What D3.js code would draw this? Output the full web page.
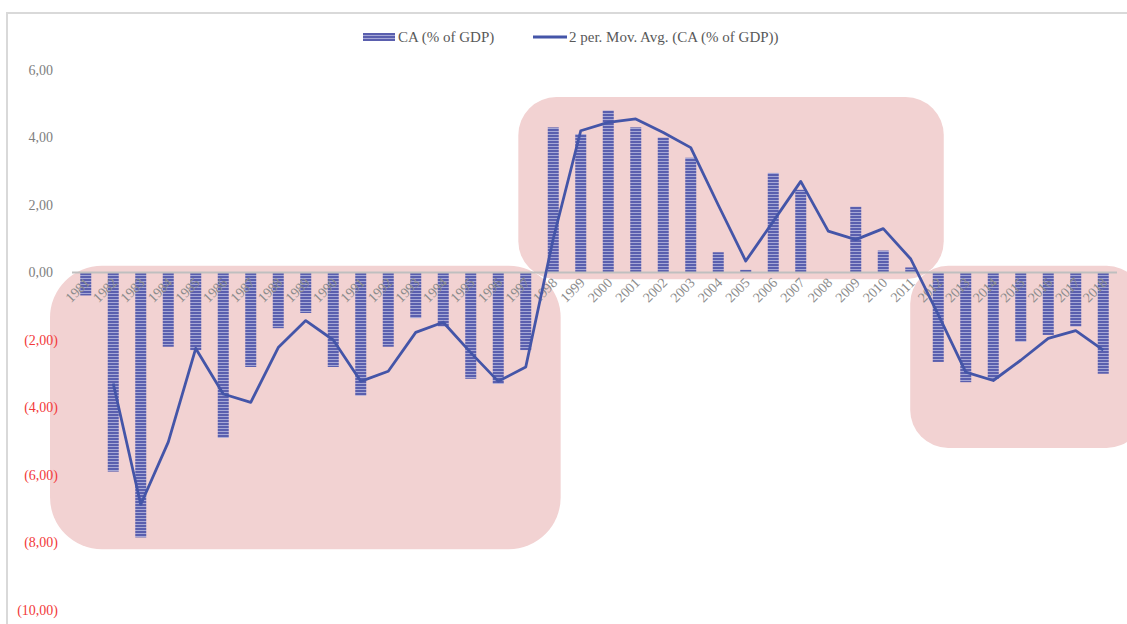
<!DOCTYPE html>
<html>
<head>
<meta charset="utf-8">
<script src="https://cdn.jsdelivr.net/npm/d3@7"></script>
<style>
  html, body { margin: 0; padding: 0; background: #fff; }
  svg { display: block; }
  text { font-family: "Liberation Serif", "DejaVu Serif", serif; }
</style>
</head>
<body>
<svg id="chart" width="1127" height="624"></svg>
<script>
// Current account balance, % of GDP
const years = d3.range(1981, 2019).map(String);
const caValues = [
  -0.68, -5.9, -7.85, -2.2, -2.3, -4.9, -2.8, -1.65, -1.2, -2.8,
  -3.65, -2.2, -1.35, -1.6, -3.15, -3.3, -2.3, 4.3, 4.1, 4.8,
  4.3, 4.0, 3.4, 0.6, 0.08, 2.95, 2.45, 0.0, 1.95, 0.65,
  0.15, -2.65, -3.25, -3.15, -2.05, -1.85, -1.6, -3.0
];
const yTicks = [6, 4, 2, 0, -2, -4, -6, -8, -10];
const legendLabels = ["CA (% of GDP)", "2 per. Mov. Avg. (CA (% of GDP))"];

// Highlighted periods: [first year, last year, top value, bottom value]
const periodFirst = ["1981", "1998", "2012"];
const periodLast = ["1997", "2011", "2018"];
const periodTop = [0.2, 5.2, 0.2];
const periodBottom = [-8.2, -0.2, -5.2];

// 2-period moving average (starts at the second year)
const movAvg = caValues.slice(1).map((v, i) => ({ year: years[i + 1], value: (v + caValues[i]) / 2 }));

const svg = d3.select("#chart");

const x = d3.scaleBand().domain(years).range([72, 1117]).paddingInner(0.6).paddingOuter(0.3);
const y = d3.scaleLinear().domain([-10, 6]).range([610, 70]);

const defs = svg.append("defs");
const pat = defs.append("pattern")
  .attr("id", "stripes").attr("patternUnits", "userSpaceOnUse")
  .attr("width", 6).attr("height", 3);
pat.append("rect").attr("width", 6).attr("height", 3).attr("fill", "#5a5fae");
pat.append("rect").attr("y", 2).attr("width", 6).attr("height", 1).attr("fill", "#a6a8d6");

// chart frame
svg.append("path").attr("d", "M7,624 V13 H1127")
  .attr("fill", "none").attr("stroke", "#d9d9d9").attr("stroke-width", 2);

// highlight boxes, padded around their first and last bars
const step = x.step();
const padLeft = [1.1, 1.07, 0.82];
const padRight = [1.07, 1.0, 1.3];
const boxes = svg.append("g");
periodFirst.forEach((f, i) => {
  const x0 = x(f) - step * padLeft[i];
  const x1 = x(periodLast[i]) + x.bandwidth() + step * padRight[i];
  boxes.append("rect")
    .attr("x", x0).attr("y", y(periodTop[i]))
    .attr("width", x1 - x0).attr("height", y(periodBottom[i]) - y(periodTop[i]))
    .attr("rx", i === 0 ? 52 : 38)
    .attr("fill", "#f2d2d2");
});

// y-axis labels
const fmt = v => {
  const s = Math.abs(v).toFixed(2).replace(".", ",");
  return v < 0 ? "(" + s + ")" : s;
};
svg.append("g").selectAll("text").data(yTicks).join("text")
  .attr("x", d => d < 0 ? 58 : 53)
  .attr("y", d => y(d)).attr("dy", "0.35em")
  .attr("text-anchor", "end")
  .attr("font-size", 14)
  .attr("fill", d => d < 0 ? "#f23a3a" : "#808080")
  .text(fmt);

// bars
svg.append("g").selectAll("rect").data(caValues).join("rect")
  .attr("x", (d, i) => x(years[i]))
  .attr("width", x.bandwidth())
  .attr("y", d => y(Math.max(0, d)))
  .attr("height", d => Math.abs(y(d) - y(0)))
  .attr("fill", "url(#stripes)");

// zero line
svg.append("line").attr("x1", 72).attr("x2", 1117)
  .attr("y1", y(0)).attr("y2", y(0))
  .attr("stroke", "#bfbfbf").attr("stroke-width", 2);

// x-axis labels
svg.append("g").selectAll("text").data(years).join("text")
  .attr("transform", d => `translate(${x(d) + x.bandwidth() / 2 + 5},${y(0) + 11}) rotate(-45)`)
  .attr("text-anchor", "end")
  .attr("font-size", 14)
  .attr("fill", "#8c8c8c")
  .text(d => d);

// moving average line
const line = d3.line().x(d => x(d.year) + x.bandwidth() / 2).y(d => y(d.value));
svg.append("path").datum(movAvg)
  .attr("d", line)
  .attr("fill", "none").attr("stroke", "#4455a8").attr("stroke-width", 2.8)
  .attr("stroke-linejoin", "round");

// legend
const lg = svg.append("g");
lg.append("rect").attr("x", 363).attr("y", 33).attr("width", 32).attr("height", 8).attr("fill", "url(#stripes)");
lg.append("text").attr("x", 398).attr("y", 42).attr("font-size", 15).attr("fill", "#595959").text(legendLabels[0]);
lg.append("line").attr("x1", 533).attr("x2", 567).attr("y1", 37).attr("y2", 37)
  .attr("stroke", "#4455a8").attr("stroke-width", 2.8);
lg.append("text").attr("x", 569).attr("y", 42).attr("font-size", 15).attr("fill", "#595959").text(legendLabels[1]);
</script>
</body>
</html>
